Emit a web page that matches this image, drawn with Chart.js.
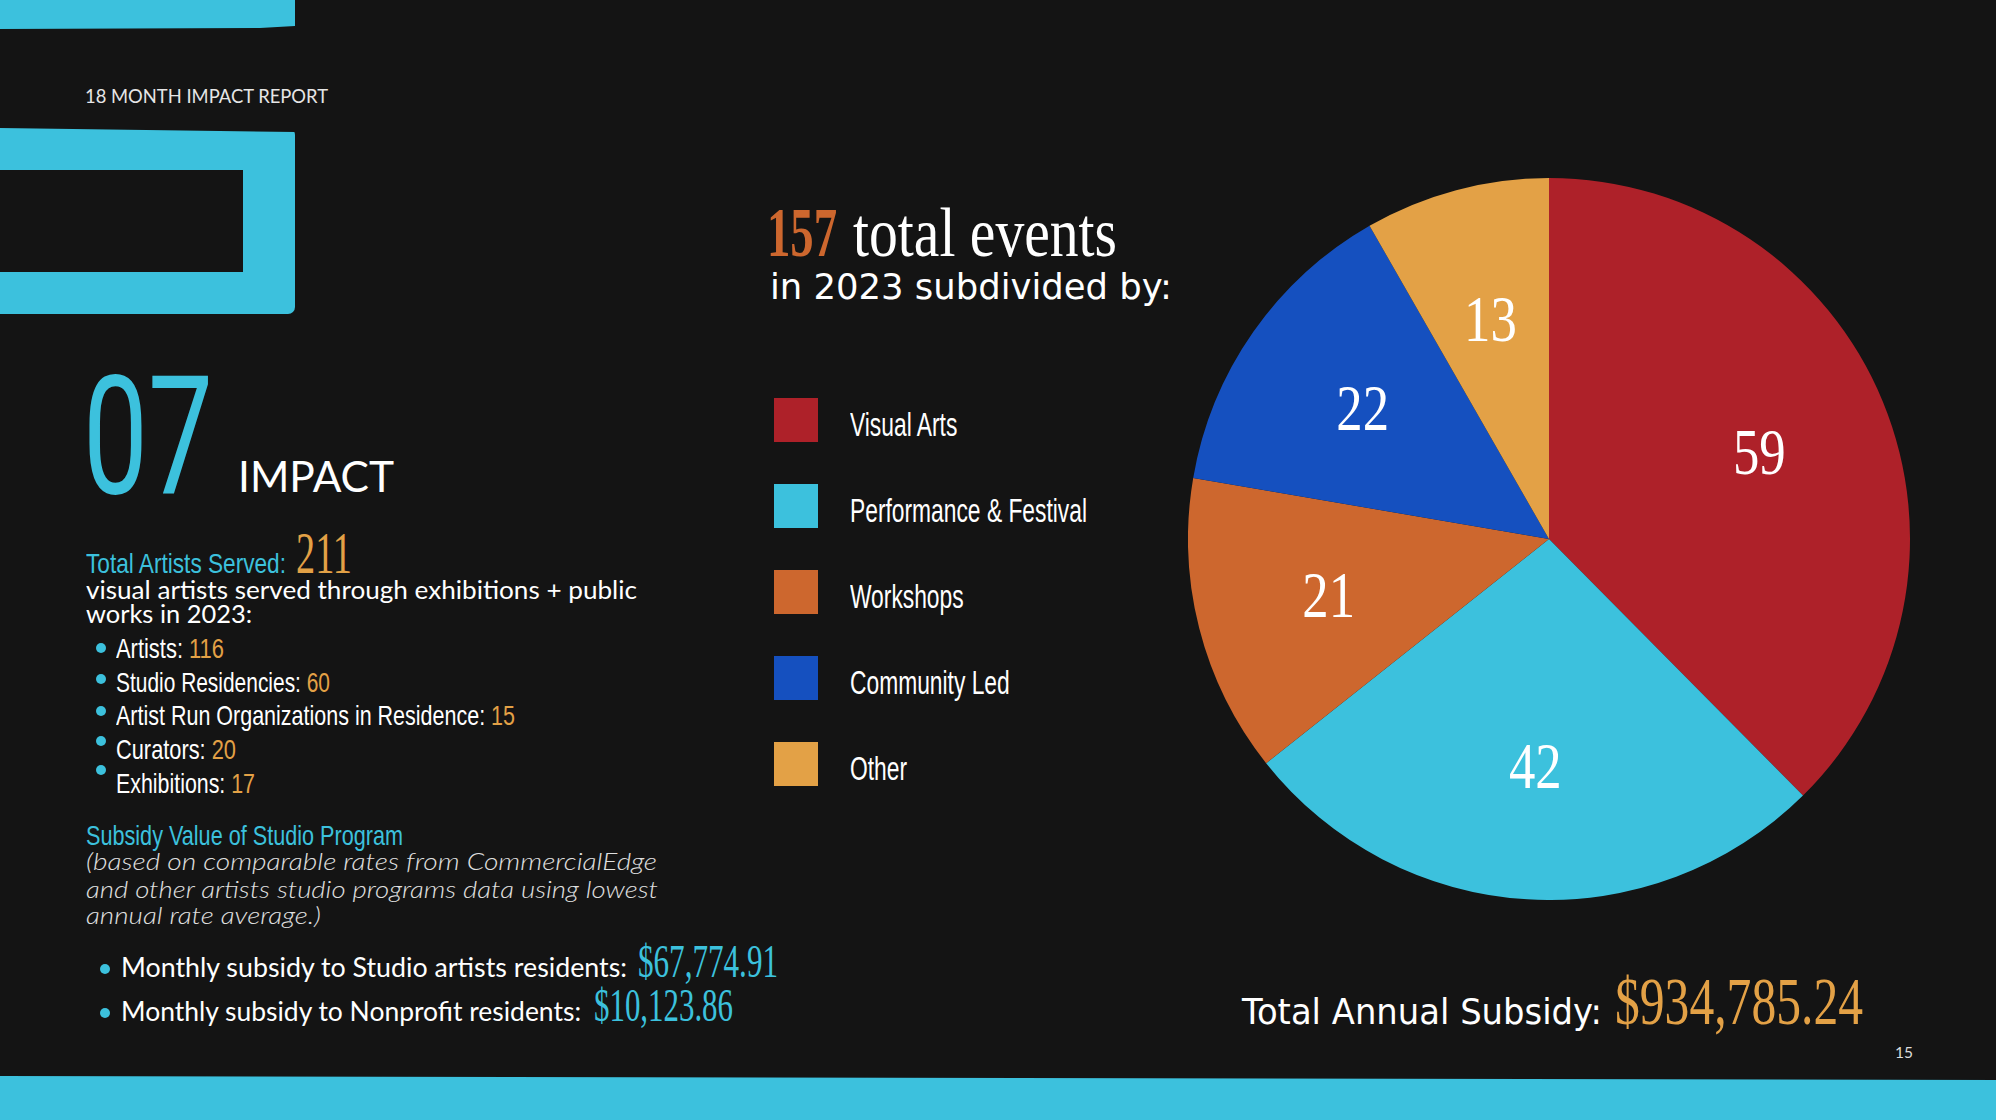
<!DOCTYPE html>
<html>
<head>
<meta charset="utf-8">
<title>18 Month Impact Report - 07 Impact</title>
<script src="https://cdn.jsdelivr.net/npm/chart.js@4.4.1/dist/chart.umd.min.js"></script>
<style>
html, body { margin: 0; padding: 0; }
body { width: 1996px; height: 1120px; background: #141414; position: relative; overflow: hidden; color: #fff; }
.t { position: absolute; white-space: nowrap; line-height: 1; transform-origin: 0 0; }
.narrow { font-family: "Liberation Sans Narrow", "Liberation Sans", sans-serif; }
.serif { font-family: "Liberation Serif", serif; }
.wide { font-family: "DejaVu Sans", sans-serif; }
.geo { font-family: "Lato", "Open Sans", sans-serif; }
.cyan { color: #3cc1dd; }
.gold { color: #e3a146; }
.rust { color: #cd672e; }
.dot { position: absolute; width: 10px; height: 10px; border-radius: 50%; background: #3cc1dd; }
.shape { position: absolute; background: #3cc1dd; }
.sw { position: absolute; left: 774px; width: 44px; height: 44px; }
#pie { position: absolute; left: 1188px; top: 178px; }
</style>
</head>
<body>

<!-- decorative bars -->
<div class="shape" style="left:0;top:0;width:295px;height:29px;clip-path:polygon(0 0,295px 0,295px 26px,260px 28px,0 29px)"></div>
<div class="shape" style="left:0;top:128px;width:295px;height:186px;border-radius:0 7px 7px 0;clip-path:polygon(0 0,295px 4px,295px 186px,0 186px)"></div>
<div class="shape" style="left:0;top:170px;width:243px;height:102px;background:#141414"></div>
<div class="shape" style="left:0;top:1076px;width:1996px;height:44px;clip-path:polygon(0 0,1996px 4px,1996px 44px,0 44px)"></div>

<!-- left column -->
<div class="t geo" style="font-size:20px;color:#e6e6e6" data-x="85" data-y="103" data-w="243">18 MONTH IMPACT REPORT</div>
<div class="t cyan" style="font-family:Roboto,sans-serif;font-weight:400;font-size:166px" data-x="83" data-y="493" data-w="130">07</div>
<div class="t geo" style="font-size:43px" data-x="238" data-y="492" data-w="156">IMPACT</div>

<div class="t narrow cyan" style="font-size:28px" data-x="86" data-y="573" data-w="200">Total Artists Served:</div>
<div class="t serif gold" style="font-size:60px" data-x="296" data-y="573" data-w="56">211</div>
<div class="t geo" style="font-size:25px" data-x="86" data-y="599" data-w="551">visual artists served through exhibitions + public</div>
<div class="t geo" style="font-size:25px" data-x="86" data-y="623" data-w="166">works in 2023:</div>

<div class="dot" style="left:96px;top:643px"></div>
<div class="t narrow" style="font-size:28px" data-x="116" data-y="658" data-w="108">Artists: <span class="gold">116</span></div>
<div class="dot" style="left:96px;top:674px"></div>
<div class="t narrow" style="font-size:28px" data-x="116" data-y="692" data-w="214">Studio Residencies: <span class="gold">60</span></div>
<div class="dot" style="left:96px;top:706px"></div>
<div class="t narrow" style="font-size:28px" data-x="116" data-y="725" data-w="399">Artist Run Organizations in Residence: <span class="gold">15</span></div>
<div class="dot" style="left:96px;top:736px"></div>
<div class="t narrow" style="font-size:28px" data-x="116" data-y="759" data-w="120">Curators: <span class="gold">20</span></div>
<div class="dot" style="left:96px;top:765px"></div>
<div class="t narrow" style="font-size:28px" data-x="116" data-y="793" data-w="139">Exhibitions: <span class="gold">17</span></div>

<div class="t narrow cyan" style="font-size:28px" data-x="86" data-y="845" data-w="317">Subsidy Value of Studio Program</div>
<div class="t geo" style="font-size:24px;font-style:italic;font-weight:300;color:#e0e0e0" data-x="86" data-y="870" data-w="571">(based on comparable rates from CommercialEdge</div>
<div class="t geo" style="font-size:24px;font-style:italic;font-weight:300;color:#e0e0e0" data-x="86" data-y="898" data-w="572">and other artists studio programs data using lowest</div>
<div class="t geo" style="font-size:24px;font-style:italic;font-weight:300;color:#e0e0e0" data-x="86" data-y="924" data-w="235">annual rate average.)</div>

<div class="dot" style="left:100px;top:964px"></div>
<div class="t geo" style="font-size:26px" data-x="121" data-y="977" data-w="506">Monthly subsidy to Studio artists residents:</div>
<div class="t serif cyan" style="font-size:46px" data-x="638" data-y="977" data-w="140">$67,774.91</div>
<div class="dot" style="left:100px;top:1008px"></div>
<div class="t geo" style="font-size:26px" data-x="121" data-y="1021" data-w="460">Monthly subsidy to Nonprofit residents:</div>
<div class="t serif cyan" style="font-size:46px" data-x="594" data-y="1021" data-w="139">$10,123.86</div>

<!-- chart heading -->
<div class="t serif rust" style="font-size:70px;font-weight:bold" data-x="767" data-y="256" data-w="70">157</div>
<div class="t serif" style="font-size:70px" data-x="853" data-y="256" data-w="264">total events</div>
<div class="t wide" style="font-size:36px" data-x="770" data-y="299" data-w="402">in 2023 subdivided by:</div>

<div id="legend"></div>
<canvas id="pie" width="722" height="722"></canvas>

<div class="t wide" style="font-size:36px" data-x="1242" data-y="1024" data-w="360">Total Annual Subsidy:</div>
<div class="t serif gold" style="font-size:68px" data-x="1615" data-y="1024" data-w="248">$934,785.24</div>
<div class="t geo" style="font-size:16px;color:#ddd" data-x="1895" data-y="1058" data-w="18">15</div>

<script>
// chart data
var categories = ["Visual Arts", "Performance & Festival", "Workshops", "Community Led", "Other"];
var eventCounts = [59, 42, 21, 22, 13];
var sliceColors = ["#ae2129", "#3cc1dd", "#cd672e", "#1550bf", "#e3a146"];

// legend rows, built from the same arrays as the pie
var legend = document.getElementById("legend");
categories.forEach(function (name, i) {
    var sw = document.createElement("div");
    sw.className = "sw";
    sw.style.top = (398 + i * 86) + "px";
    sw.style.background = sliceColors[i];
    legend.appendChild(sw);

    var label = document.createElement("div");
    label.className = "t narrow legend-label";
    label.style.fontSize = "33px";
    label.dataset.x = 850;
    label.dataset.y = 436 + i * 86;
    label.textContent = name;
    legend.appendChild(label);
});

// put each text block on its baseline, squeeze to its width
function placeText() {
    document.querySelectorAll(".t").forEach(function (el) {
        var probe = document.createElement("span");
        probe.style.cssText = "display:inline-block;width:0;height:0;vertical-align:baseline";
        el.appendChild(probe);
        var base = probe.offsetTop;
        el.removeChild(probe);
        el.style.left = el.dataset.x + "px";
        el.style.top = (el.dataset.y - base) + "px";
        if (el.dataset.w) {
            var w = el.getBoundingClientRect().width;
            el.style.transform = "scaleX(" + (el.dataset.w / w) + ")";
        }
    });

    // legend labels share one squeeze, set by the longest one
    var labels = document.querySelectorAll(".legend-label");
    var longest = 0;
    labels.forEach(function (el) { longest = Math.max(longest, el.getBoundingClientRect().width); });
    labels.forEach(function (el) { el.style.transform = "scaleX(" + (237 / longest) + ")"; });
}

// value labels inside the slices
var sliceLabels = {
    id: "sliceLabels",
    afterDatasetsDraw: function (chart) {
        var ctx = chart.ctx;
        var meta = chart.getDatasetMeta(0);
        var size = 66;
        ctx.save();
        ctx.fillStyle = "#ffffff";
        ctx.font = size + "px 'Liberation Serif', serif";
        ctx.textAlign = "center";
        ctx.textBaseline = "alphabetic";
        meta.data.forEach(function (arc, i) {
            var mid = (arc.startAngle + arc.endAngle) / 2;
            var r = arc.outerRadius * 0.63;
            var x = arc.x + Math.cos(mid) * r;
            var y = arc.y + Math.sin(mid) * r;
            ctx.save();
            ctx.translate(x, y + size * 0.33);
            ctx.scale(0.8, 1);
            ctx.fillText(String(chart.data.datasets[0].data[i]), 0, 0);
            ctx.restore();
        });
        ctx.restore();
    }
};

function drawChart() {
    var ctx = document.getElementById("pie").getContext("2d");
    new Chart(ctx, {
        type: "pie",
        data: {
            labels: categories,
            datasets: [{
                data: eventCounts,
                backgroundColor: sliceColors,
                borderWidth: 0
            }]
        },
        options: {
            responsive: false,
            animation: false,
            layout: { padding: 0 },
            plugins: {
                legend: { display: false },
                tooltip: { enabled: false }
            }
        },
        plugins: [sliceLabels]
    });
}

placeText();
drawChart();
</script>
</body>
</html>
